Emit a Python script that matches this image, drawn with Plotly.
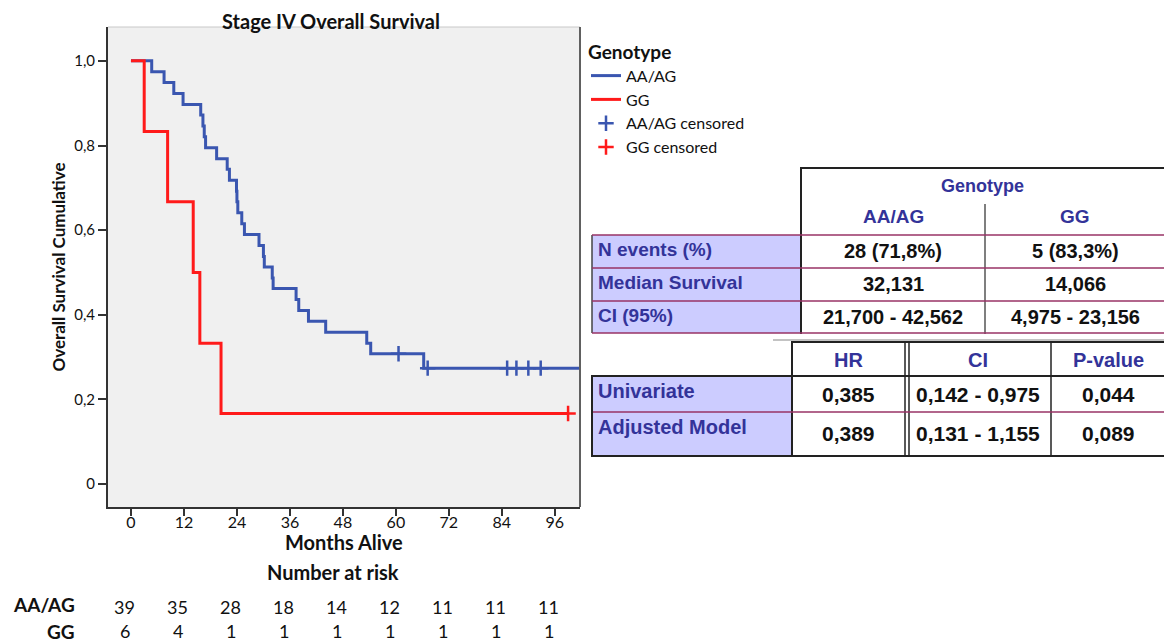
import plotly.graph_objects as go

# ---------------- data ----------------
aa_times = [0, 4.7, 7.5, 9.7, 11.8, 15.8, 16.3, 16.6, 16.9, 19.4, 21.8, 22.3, 23.9, 24.0, 24.2,
            25.1, 25.7, 29.0, 30.0, 30.2, 32.0, 32.2, 37.4, 38.0, 40.2, 44.1, 53.4, 54.3, 66.3, 103.0]
aa_surv = [1.0, 0.974, 0.949, 0.923, 0.897, 0.872, 0.846, 0.821, 0.795, 0.769, 0.744, 0.718, 0.692, 0.667, 0.641,
           0.615, 0.590, 0.564, 0.538, 0.513, 0.487, 0.462, 0.436, 0.410, 0.385, 0.359, 0.333, 0.308, 0.274, 0.274]
aa_cens_t = [60.6, 67.2, 85.2, 87.3, 90.0, 92.8]
aa_cens_s = [0.308, 0.274, 0.274, 0.274, 0.274, 0.274]

gg_times = [0, 3.0, 8.3, 14.1, 15.6, 20.4, 99.0]
gg_surv = [1.0, 0.833, 0.667, 0.5, 0.333, 0.167, 0.167]
gg_cens_t = [99.0]
gg_cens_s = [0.167]

x_ticks = [0, 12, 24, 36, 48, 60, 72, 84, 96]
y_ticks = [0, 0.2, 0.4, 0.6, 0.8, 1.0]
y_ticktext = ["0", "0,2", "0,4", "0,6", "0,8", "1,0"]

risk_groups = ["AA/AG", "GG"]
risk_aa = [39, 35, 28, 18, 14, 12, 11, 11, 11]
risk_gg = [6, 4, 1, 1, 1, 1, 1, 1, 1]

t1_groups = ["AA/AG", "GG"]
t1_rows = ["N events (%)", "Median Survival", "CI (95%)"]
t1_aa = ["28 (71,8%)", "32,131", "21,700 - 42,562"]
t1_gg = ["5 (83,3%)", "14,066", "4,975 - 23,156"]

t2_cols = ["HR", "CI", "P-value"]
t2_rows = ["Univariate", "Adjusted Model"]
t2_uni = ["0,385", "0,142 - 0,975", "0,044"]
t2_adj = ["0,389", "0,131 - 1,155", "0,089"]

BLUE = "#3a56b0"
RED = "#ff1a1a"
HDR = "#333399"
MAROON = "#993366"
LAV = "#ccccff"
CHART_FONT = "Lato"
TAB_FONT = "Liberation Sans"

W, H = 1164, 642
L, R, T, B = 108, 580, 27, 507


def px(x):
    return (x - L) / (R - L)


def py(y):
    return (B - y) / (B - T)


fig = go.Figure()
fig.add_trace(go.Scatter(x=aa_times, y=aa_surv, mode="lines", line=dict(color=BLUE, width=3, shape="hv"),
                         name="AA/AG", legendrank=1))
fig.add_trace(go.Scatter(x=gg_times, y=gg_surv, mode="lines", line=dict(color=RED, width=3, shape="hv"),
                         name="GG", legendrank=2))
fig.add_trace(go.Scatter(x=aa_cens_t, y=aa_cens_s, mode="markers",
                         marker=dict(symbol="cross-thin", size=11, line=dict(color=BLUE, width=2.5)),
                         name="AA/AG censored", legendrank=3))
fig.add_trace(go.Scatter(x=gg_cens_t, y=gg_cens_s, mode="markers",
                         marker=dict(symbol="cross-thin", size=11, line=dict(color=RED, width=2.5)),
                         name="GG censored", legendrank=4))

shapes = []
annots = []

# plot frame top / right
shapes.append(dict(type="line", xref="paper", yref="paper", x0=0, x1=1, y0=1, y1=1,
                   line=dict(color="#c8c8c8", width=1)))
shapes.append(dict(type="line", xref="paper", yref="paper", x0=1, x1=1, y0=0, y1=1,
                   line=dict(color="#606060", width=2)))

# x axis title
annots.append(dict(text="<b>Months Alive</b>", xref="paper", yref="paper", x=px(344), y=py(542),
                   xanchor="center", yanchor="middle", showarrow=False,
                   font=dict(family=CHART_FONT, size=20, color="#111")))

# number at risk
annots.append(dict(text="<b>Number at risk</b>", xref="paper", yref="paper", x=px(333), y=py(572),
                   xanchor="center", yanchor="middle", showarrow=False,
                   font=dict(family=CHART_FONT, size=20, color="#111")))
for lab, yy in zip(risk_groups, [604, 631]):
    annots.append(dict(text="<b>" + lab + "</b>", xref="paper", yref="paper", x=px(77), y=py(yy),
                       xanchor="right", yanchor="middle", showarrow=False,
                       font=dict(family=CHART_FONT, size=19, color="#111")))
for xv, a, g in zip(x_ticks, risk_aa, risk_gg):
    annots.append(dict(text=str(a), xref="x", yref="paper", x=xv - 1.4, y=py(607), showarrow=False,
                       xanchor="center", yanchor="middle", font=dict(family=CHART_FONT, size=18, color="#111")))
    annots.append(dict(text=str(g), xref="x", yref="paper", x=xv - 1.4, y=py(631), showarrow=False,
                       xanchor="center", yanchor="middle", font=dict(family=CHART_FONT, size=18, color="#111")))


def hline(y, x0, x1, color="#222", w=2):
    shapes.append(dict(type="line", xref="paper", yref="paper", x0=px(x0), x1=px(x1), y0=py(y), y1=py(y),
                       line=dict(color=color, width=w)))


def vline(x, y0, y1, color="#222", w=2):
    shapes.append(dict(type="line", xref="paper", yref="paper", x0=px(x), x1=px(x), y0=py(y0), y1=py(y1),
                       line=dict(color=color, width=w)))


def rect(x0, y0, x1, y1, fill):
    shapes.append(dict(type="rect", xref="paper", yref="paper", x0=px(x0), x1=px(x1), y0=py(y0), y1=py(y1),
                       fillcolor=fill, line=dict(width=0), layer="below"))


def text(t, x, y, color="#111", anchor="center", size=16):
    annots.append(dict(text="<b>" + t + "</b>", xref="paper", yref="paper", x=px(x), y=py(y), xanchor=anchor,
                       yanchor="middle", showarrow=False, font=dict(family=TAB_FONT, size=size, color=color)))


# ---- table 1 ----
rect(592, 235, 801, 333, LAV)
hline(168, 801, 1166)
vline(801, 167, 334)
vline(985, 204, 334, color="#555", w=1.5)
vline(592, 235, 333, color="#444", w=1.5)
for yy in [235, 268, 301, 333]:
    hline(yy, 592, 1166, color=MAROON, w=1.5)
hline(340, 773, 1166, color="#888", w=1.2)
text("Genotype", 982, 186, color=HDR, size=18)
text(t1_groups[0], 893, 216, color=HDR, size=19)
text(t1_groups[1], 1075, 216, color=HDR, size=19)
for i, (lab, a, g) in enumerate(zip(t1_rows, t1_aa, t1_gg)):
    yy = [249, 282, 315][i]
    text(lab, 596, yy, color=HDR, anchor="left", size=19)
    text(a, 893, yy + 2, size=20)
    text(g, 1075, yy + 2, size=20)

# ---- table 2 ----
rect(592, 376, 792, 456, LAV)
hline(342, 792, 1166)
vline(792, 341, 457)
vline(905, 342, 456, w=1.5)
vline(909, 342, 456, w=1.5)
vline(1051, 342, 456, w=1.5)
hline(376, 592, 1166)
hline(412, 592, 1166, color=MAROON, w=1.5)
hline(456, 592, 1166)
vline(592, 375, 457)
for c, xx in zip(t2_cols, [848, 978, 1108]):
    text(c, xx, 360, color=HDR, size=20)
for i, (lab, vals) in enumerate(zip(t2_rows, [t2_uni, t2_adj])):
    yy = [391, 427][i]
    text(lab, 596, yy, color=HDR, anchor="left", size=20)
    for v, xx in zip(vals, [848, 978, 1108]):
        text(v, xx, yy + 3 + 3 * i, size=21)

fig.update_layout(
    width=W, height=H, autosize=False,
    margin=dict(l=L, r=W - R, t=T, b=H - B),
    paper_bgcolor="white", plot_bgcolor="#f0f0f0",
    font=dict(family=CHART_FONT, color="#111"),
    title=dict(text="<b>Stage IV Overall Survival</b>", x=px(331), xref="paper", xanchor="center",
               y=1 - 22 / H, yanchor="middle", font=dict(family=CHART_FONT, size=20, color="#111")),
    xaxis=dict(range=[-5.2, 101.7], tickvals=x_ticks, ticks="outside", ticklen=7, tickwidth=1.5,
               tickcolor="#333", showline=True, linecolor="#333", linewidth=2, showgrid=False,
               zeroline=False, tickfont=dict(size=16), ticklabelstandoff=-7),
    yaxis=dict(range=[-0.054, 1.08], tickvals=y_ticks, ticktext=y_ticktext, ticks="outside", ticklen=8,
               tickwidth=1.5, tickcolor="#333", showline=True, linecolor="#333", linewidth=2,
               showgrid=False, zeroline=False, tickfont=dict(size=15),
               title=dict(text="<b>Overall Survival Cumulative</b>", font=dict(size=17), standoff=4)),
    legend=dict(x=px(586), y=py(34), xanchor="left", yanchor="top", bgcolor="rgba(0,0,0,0)",
                title=dict(text="<b>Genotype</b>", font=dict(size=19)),
                font=dict(size=16, color="#111"), itemwidth=30, tracegroupgap=0),
    shapes=shapes, annotations=annots,
)

fig.write_html("out.html", config={"displayModeBar": False},
               post_script="document.body.style.margin='0';")
